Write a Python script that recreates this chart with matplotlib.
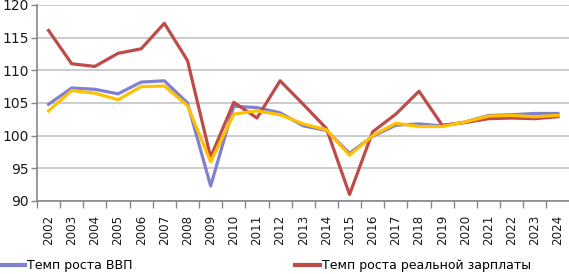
import numpy as np
import matplotlib
matplotlib.use("Agg")
import matplotlib.pyplot as plt
from matplotlib.lines import Line2D

years = [str(y) for y in range(2002, 2025)]
gdp = [104.8, 107.3, 107.1, 106.4, 108.2, 108.4, 105.0, 92.3, 104.5, 104.3, 103.5,
       101.5, 100.8, 97.3, 99.9, 101.6, 101.8, 101.5, 102.1, 103.1, 103.2, 103.4, 103.4]
wage = [116.1, 111.0, 110.6, 112.6, 113.3, 117.2, 111.5, 96.7, 105.1, 102.7, 108.4,
        104.8, 101.1, 91.0, 100.6, 103.3, 106.8, 101.6, 102.0, 102.6, 102.7, 102.6, 102.9]
prod = [103.8, 106.9, 106.5, 105.5, 107.5, 107.6, 104.6, 96.0, 103.3, 103.8, 103.2,
        101.8, 100.9, 97.0, 100.0, 101.9, 101.4, 101.4, 102.1, 103.0, 103.1, 102.9, 103.1]
labels = ["Темп роста ВВП", "Темп роста реальной зарплаты",
          "Темп роста производительности труда"]
yticks = [90, 95, 100, 105, 110, 115, 120]

plt.rcParams['font.family'] = ['DejaVu Sans']

W, H = 569, 274
fig = plt.figure(figsize=(W / 100, H / 100), dpi=100)
ax = fig.add_axes([37 / W, 73 / H, 532.5 / W, 196 / H])

x = np.arange(len(years))
c_gdp, c_wage, c_prod = '#7F81CF', '#BE4B48', '#FFC000'
ax.plot(x, gdp, color=c_gdp, lw=2.3, solid_joinstyle='round')
ax.plot(x, wage, color=c_wage, lw=2.3, solid_joinstyle='round')
ax.plot(x, prod, color=c_prod, lw=2.3, solid_joinstyle='round')

ax.set_xlim(-0.5, len(years) - 0.5)
ax.set_ylim(90, 120)
ax.set_yticks(yticks)
ax.set_yticklabels([str(v) for v in yticks], fontsize=10, color='#1a1a1a')
ax.tick_params(axis='y', length=4, width=1, color='#868686', pad=2, direction='out')

ax.set_xticks(x)
ax.set_xticklabels(years, rotation=90, fontsize=8.6, color='#1a1a1a')
ax.tick_params(axis='x', which='major', length=0, pad=10)
ax.set_xticks(np.arange(len(years) + 1) - 0.5, minor=True)
ax.tick_params(axis='x', which='minor', length=5, width=1, color='#868686', direction='out')

ax.grid(axis='y', color='#C4C4C4', lw=1.2)
ax.set_axisbelow(True)
for s in ['top', 'right']:
    ax.spines[s].set_visible(False)
for s in ['left', 'bottom']:
    ax.spines[s].set_color('#868686')
    ax.spines[s].set_linewidth(1.2)

handles = [Line2D([], [], color=c_gdp, lw=3), Line2D([], [], color=c_wage, lw=3)]
fig.legend(handles, labels[:2], loc='center left', bbox_to_anchor=(0.0, 8 / H),
           ncol=2, frameon=False, fontsize=9, handlelength=2.0, handletextpad=0.15,
           columnspacing=13.0, borderpad=0, borderaxespad=0)

fig.savefig('out.png', dpi=100)
